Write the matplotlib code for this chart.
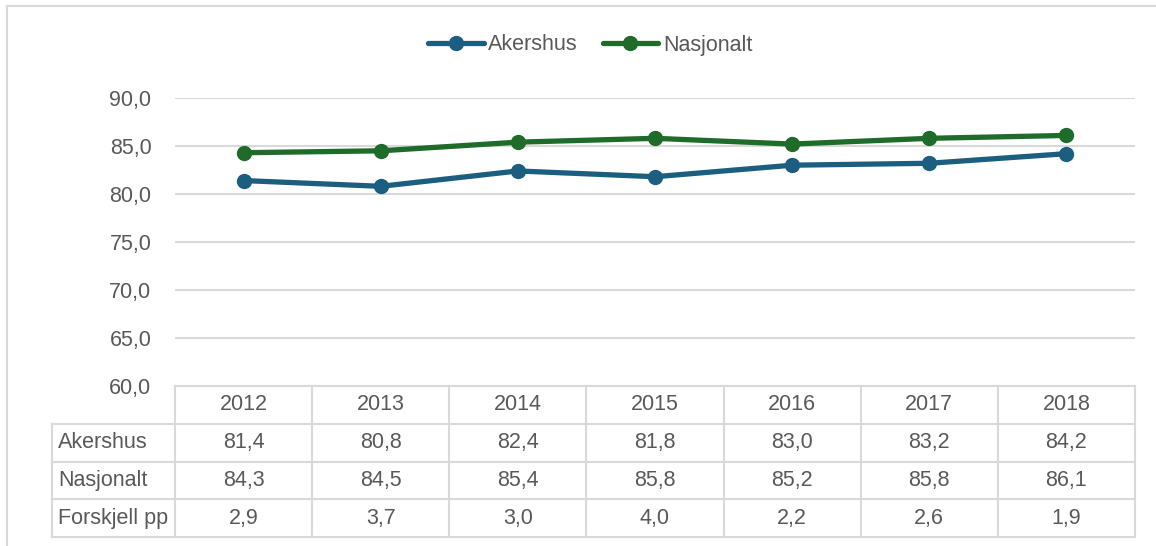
import matplotlib
matplotlib.use("Agg")
import matplotlib.pyplot as plt
from matplotlib.lines import Line2D

years = ["2012", "2013", "2014", "2015", "2016", "2017", "2018"]
akershus = [81.4, 80.8, 82.4, 81.8, 83.0, 83.2, 84.2]
nasjonalt = [84.3, 84.5, 85.4, 85.8, 85.2, 85.8, 86.1]
forskjell = [2.9, 3.7, 3.0, 4.0, 2.2, 2.6, 1.9]
row_labels = ["Akershus", "Nasjonalt", "Forskjell pp"]
yticks = [60, 65, 70, 75, 80, 85, 90]

BLUE = "#1b5e80"
GREEN = "#1e6b2a"
TXT = "#595959"
GRID = "#d9d9d9"
FONT = "Liberation Sans"
FS = 15.5

W, H = 1156, 546
plt.rcParams["font.family"] = FONT

fig = plt.figure(figsize=(W / 100, H / 100), dpi=100)


def box(x0, y0, x1, y1):
    # pixel box (top-left origin) -> figure fraction rect
    return [x0 / W, 1 - y1 / H, (x1 - x0) / W, (y1 - y0) / H]


# ---- chart border (left and top visible) ----
fig.add_artist(Line2D([7 / W, 7 / W], [0, 1 - 6 / H], color=GRID, lw=1.5))
fig.add_artist(Line2D([7 / W, 1], [1 - 6 / H, 1 - 6 / H], color=GRID, lw=1.5))

# ---- line plot ----
ax = fig.add_axes(box(175, 98, 1135, 386))
x = list(range(len(years)))
ax.plot(x, akershus, color=BLUE, lw=3.8, marker="o", ms=10, label="Akershus",
        solid_capstyle="round", zorder=3, clip_on=False)
ax.plot(x, nasjonalt, color=GREEN, lw=3.8, marker="o", ms=10, label="Nasjonalt",
        solid_capstyle="round", zorder=3, clip_on=False)
ax.set_xlim(-0.5, len(years) - 0.5)
ax.set_ylim(60, 90)
ax.set_yticks(yticks)
ax.set_yticklabels([f"{v:.1f}".replace(".", ",") for v in yticks], color=TXT, fontsize=FS)
ax.tick_params(axis="y", length=0, pad=17)
ax.set_xticks([])
for s in ax.spines.values():
    s.set_visible(False)
ax.grid(axis="y", color=GRID, lw=1.5)
ax.set_axisbelow(True)

fig.legend(loc="center", bbox_to_anchor=(590 / W, 1 - 45 / H), ncol=2, frameon=False,
           fontsize=FS, labelcolor=TXT, handlelength=2.6, handletextpad=0.2,
           columnspacing=1.15)

# ---- data table ----
lab_w = 123 / (960 / len(years))
tx = fig.add_axes(box(52, 386, 1135, 537))
tx.set_xlim(-0.5 - lab_w, len(years) - 0.5)
tx.set_ylim(4, 0)
tx.axis("off")

left = -0.5 - lab_w
right = len(years) - 0.5
lk = dict(color=GRID, lw=1.5, clip_on=False)
# horizontal rules
tx.plot([-0.5, right], [0, 0], **lk)
for r in range(1, 5):
    tx.plot([left, right], [r, r], **lk)
# vertical rules
tx.plot([left, left], [1, 4], **lk)
for c in range(len(years) + 1):
    tx.plot([c - 0.5, c - 0.5], [0, 4], **lk)

for i, yr in enumerate(years):
    tx.text(i, 0.5, yr, ha="center", va="center", color=TXT, fontsize=FS)
rows = [akershus, nasjonalt, forskjell]
for r, (lab, vals) in enumerate(zip(row_labels, rows), start=1):
    tx.text(left + 0.045, r + 0.5, lab, ha="left", va="center", color=TXT, fontsize=FS)
    for i, v in enumerate(vals):
        tx.text(i, r + 0.5, f"{v:.1f}".replace(".", ","), ha="center", va="center",
                color=TXT, fontsize=FS)

fig.savefig("out.png", dpi=100, facecolor="white")
